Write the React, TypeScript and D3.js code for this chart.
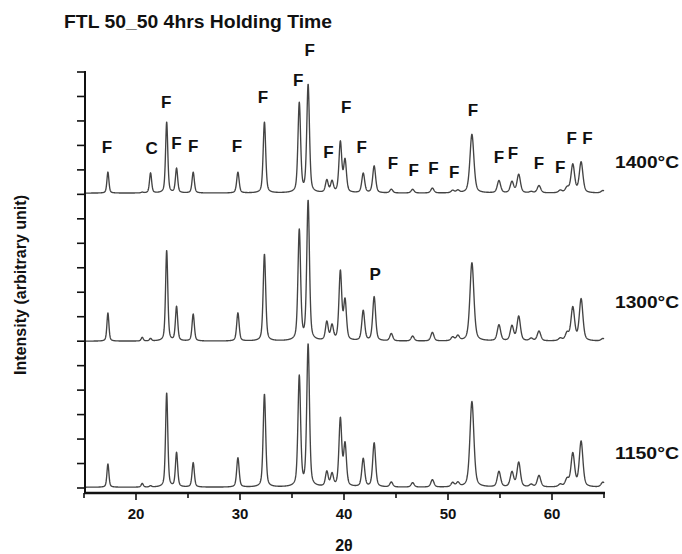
import React from "react";
import * as d3 from "d3";

const title = "FTL 50_50 4hrs Holding Time";
const xLabel = "2θ";
const yLabel = "Intensity (arbitrary unit)";
const xTicks = [20, 30, 40, 50, 60];
const xMinorTicks = [15, 25, 35, 45, 55, 65];

// Peak positions (2θ) shared by all three patterns
const peakPositions = [17.3, 20.6, 21.4, 22.95, 23.9, 25.5, 29.8, 32.35, 35.7, 36.55, 38.35, 38.85, 39.65, 40.1, 41.85, 42.9, 44.55, 46.6, 48.5, 50.45, 50.95, 52.3, 54.9, 56.15, 56.8, 58.0, 58.75, 60.8, 61.45, 62.0, 62.8, 64.9];

const heights1400 = [0.86, 0.03, 0.82, 2.9, 1.0, 0.85, 0.85, 2.9, 3.65, 4.4, 0.5, 0.45, 2.05, 1.3, 0.8, 1.1, 0.15, 0.15, 0.2, 0.1, 0.1, 2.4, 0.5, 0.45, 0.75, 0.05, 0.3, 0.1, 0.2, 1.15, 1.25, 0.1];
const heights1300 = [1.15, 0.15, 0.1, 3.7, 1.4, 1.1, 1.15, 3.55, 4.5, 5.7, 0.75, 0.6, 2.8, 1.6, 1.23, 1.8, 0.3, 0.2, 0.35, 0.15, 0.2, 3.2, 0.65, 0.6, 1.0, 0.1, 0.4, 0.1, 0.3, 1.35, 1.7, 0.1];
const heights1150 = [0.95, 0.15, 0.05, 3.85, 1.4, 1.0, 1.2, 3.8, 4.5, 5.8, 0.6, 0.5, 2.75, 1.7, 1.15, 1.8, 0.2, 0.18, 0.3, 0.17, 0.17, 3.5, 0.63, 0.6, 1.0, 0.1, 0.47, 0.1, 0.3, 1.35, 1.85, 0.2];

const seriesNames = ["1400°C", "1300°C", "1150°C"];
const seriesOffsets = [12.05, 6.0, 0.03];
const seriesHeights = [heights1400, heights1300, heights1150];
const seriesLabelLevels = [13.3, 7.6, 1.4];

// Phase labels: letter, 2θ, intensity level (axis units)
const labelTexts = ["F", "C", "F", "F", "F", "F", "F", "F", "F", "F", "F", "F", "F", "F", "F", "F", "F", "F", "F", "F", "F", "F", "F", "P"];
const labelTheta = [17.2, 21.5, 22.9, 23.9, 25.5, 29.7, 32.2, 35.6, 36.7, 38.5, 40.2, 41.7, 44.7, 46.7, 48.6, 50.6, 52.4, 54.9, 56.25, 58.75, 60.8, 61.9, 63.4, 43.0];
const labelLevel = [13.94, 13.9, 15.77, 14.1, 14.0, 14.0, 15.98, 16.67, 17.9, 13.73, 15.57, 13.94, 13.28, 13.0, 13.08, 12.91, 15.45, 13.53, 13.69, 13.28, 13.12, 14.3, 14.3, 8.75];

const W = 682;
const H = 554;
const x = d3.scaleLinear().domain([15, 65]).range([84, 604]);
const y = d3.scaleLinear().domain([0, 17]).range([488, 72]);
const yTicks = d3.range(0, 18);

function widthAt(p: number) {
  if (Math.abs(p - 52.3) < 0.1) return 0.45;
  return 0.22 + 0.004 * (p - 15);
}

function profile(heights: number[], t: number) {
  let s = 0;
  for (let i = 0; i < peakPositions.length; i++) {
    const w = widthAt(peakPositions[i]);
    const d = (t - peakPositions[i]) / (w / 2);
    const lor = 1 / (1 + d * d);
    const gau = Math.exp(-Math.LN2 * d * d);
    s += heights[i] * (0.45 * lor + 0.55 * gau);
  }
  return s;
}

const grid = d3.range(15, 65.0001, 0.02);
const font = "Arial, 'Liberation Sans', Helvetica, sans-serif";

export default function App() {
  const line = d3
    .line<[number, number]>()
    .x((d) => x(d[0]))
    .y((d) => y(d[1]));

  return (
    <svg width={W} height={H} style={{ position: "absolute", left: 0, top: 0, background: "#fff" }} fontFamily={font}>
      <text x={64} y={28} fontSize={18} fontWeight="bold" fill="#111" textLength={268} lengthAdjust="spacingAndGlyphs">
        {title}
      </text>

      {seriesHeights.map((hs, si) => (
        <path
          key={si}
          d={line(grid.map((t) => [t, seriesOffsets[si] + profile(hs, t)] as [number, number])) || ""}
          fill="none"
          stroke="#444"
          strokeWidth={1.35}
          strokeLinejoin="round"
        />
      ))}

      {/* y axis */}
      <line x1={85} x2={85} y1={71} y2={494} stroke="#111" strokeWidth={2} />
      {yTicks.map((t) => (
        <line key={t} x1={77} x2={86} y1={y(t)} y2={y(t)} stroke="#111" strokeWidth={1.6} />
      ))}

      {/* x axis */}
      <line x1={84} x2={605} y1={493} y2={493} stroke="#111" strokeWidth={2.4} />
      {xTicks.map((t) => (
        <g key={t}>
          <line x1={x(t)} x2={x(t)} y1={493} y2={500} stroke="#111" strokeWidth={1.6} />
          <text x={x(t)} y={519} textAnchor="middle" fontSize={15} fontWeight="bold" fill="#111">
            {t}
          </text>
        </g>
      ))}
      {xMinorTicks.map((t) => (
        <line key={t} x1={x(t)} x2={x(t)} y1={493} y2={498} stroke="#111" strokeWidth={1.6} />
      ))}
      <text x={344} y={551} textAnchor="middle" fontSize={16} fontWeight="bold" fill="#111">
        {xLabel}
      </text>
      <text
        transform={`translate(26,285) rotate(-90)`}
        textAnchor="middle"
        fontSize={16}
        fontWeight="bold"
        fill="#111"
        textLength={180}
        lengthAdjust="spacingAndGlyphs"
      >
        {yLabel}
      </text>

      {/* series labels */}
      {seriesNames.map((n, i) => (
        <text key={n} x={615} y={y(seriesLabelLevels[i])} dy="0.35em" fontSize={16} fontWeight="bold" fill="#111" textLength={64} lengthAdjust="spacingAndGlyphs">
          {n}
        </text>
      ))}

      {/* phase labels */}
      {labelTexts.map((s, i) => (
        <text key={i} x={x(labelTheta[i])} y={y(labelLevel[i])} dy="0.36em" textAnchor="middle" fontSize={17} fontWeight="bold" fill="#111">
          {s}
        </text>
      ))}
    </svg>
  );
}
